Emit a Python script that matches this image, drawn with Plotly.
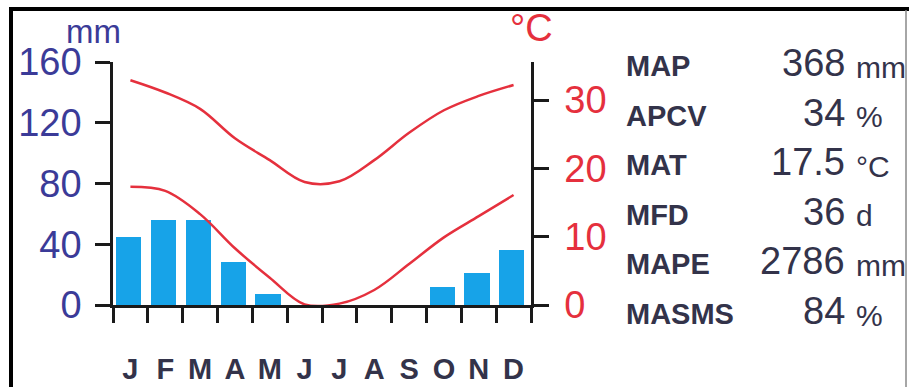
import plotly.graph_objects as go

months = ["J", "F", "M", "A", "M", "J", "J", "A", "S", "O", "N", "D"]
precip_mm = [45, 56, 56, 28, 7, 0, 0, 0, 0, 12, 21, 36]
tmax_c = [32.9, 31.1, 28.7, 24.4, 21.2, 18.0, 18.1, 21.2, 25.2, 28.5, 30.6, 32.2]
tmin_c = [17.3, 16.7, 13.3, 8.3, 4.0, 0.1, 0.2, 2.2, 6.0, 9.9, 13.0, 16.1]

stat_names = ["MAP", "APCV", "MAT", "MFD", "MAPE", "MASMS"]
stat_values = ["368", "34", "17.5", "36", "2786", "84"]
stat_units = ["mm", "%", "°C", "d", "mm", "%"]

left_ticks = [0, 40, 80, 120, 160]
right_ticks = [0, 10, 20, 30]

FONT = "Liberation Sans, Arial, sans-serif"
NAVY = "#3b3b98"
RED = "#e5303d"
BLUE = "#17a3e8"
DARK = "#33334a"

xc = [i + 0.5 for i in range(12)]

fig = go.Figure()
fig.add_trace(go.Bar(x=xc, y=precip_mm, width=0.72, offset=-0.41, marker=dict(color=BLUE, line=dict(width=0)),
                     yaxis="y", showlegend=False))
fig.add_trace(go.Scatter(x=xc, y=tmax_c, mode="lines", line=dict(color=RED, width=2.5, shape="spline", smoothing=1),
                         yaxis="y2", showlegend=False))
fig.add_trace(go.Scatter(x=xc, y=tmin_c, mode="lines", line=dict(color=RED, width=2.5, shape="spline", smoothing=1),
                         yaxis="y2", showlegend=False))

W, H = 909, 387
L, R, T, B = 113, 531, 62, 305

def px(x):
    return (x - L) / (R - L)

def py(y):
    return (B - y) / (B - T)

fig.update_layout(
    width=W, height=H,
    margin=dict(l=L, r=W - R, t=T, b=H - B, autoexpand=False),
    paper_bgcolor="white", plot_bgcolor="white",
    font=dict(family=FONT),
    bargap=0,
    xaxis=dict(range=[0, 12], tickvals=xc, ticktext=months, ticks="", showgrid=False, zeroline=False,
               showline=True, linecolor="#1a1a1a", linewidth=2.5, automargin=False,
               tickfont=dict(size=29, color=DARK, family=FONT, weight="bold"), ticklabelstandoff=36,
               minor=dict(tick0=0, dtick=1, ticks="outside", ticklen=15, tickwidth=2.5, tickcolor="#1a1a1a")),
    yaxis=dict(range=[0, 160], tickvals=left_ticks, ticks="outside", ticklen=15, tickwidth=2.5,
               tickcolor="#1a1a1a", showline=True, linecolor="#1a1a1a", linewidth=2.5, automargin=False,
               showgrid=False, zeroline=False, tickfont=dict(size=38, color=NAVY, family=FONT),
               ticklabelstandoff=6),
    yaxis2=dict(range=[0, 243 / 6.833], tickvals=right_ticks, overlaying="y", side="right", ticks="outside",
                ticklen=15, tickwidth=2.5, tickcolor="#1a1a1a", showline=True, linecolor="#1a1a1a",
                linewidth=2.5, showgrid=False, zeroline=False, automargin=False,
                tickfont=dict(size=38, color=RED, family=FONT), ticklabelstandoff=8),
)

ann = []
ann.append(dict(text="mm", x=px(93), y=py(32), xref="paper", yref="paper", showarrow=False,
                font=dict(size=33, color=NAVY, family=FONT), xanchor="center", yanchor="middle"))
ann.append(dict(text="°C", x=px(531), y=py(28), xref="paper", yref="paper", showarrow=False,
                font=dict(size=38, color=RED, family=FONT), xanchor="center", yanchor="middle"))

base0, step = 77, 49.6
for i, (n, v, u) in enumerate(zip(stat_names, stat_values, stat_units)):
    baseline = base0 + step * i
    ann.append(dict(text=n, x=px(624), y=py(baseline - 11), xref="paper", yref="paper", showarrow=False,
                    font=dict(size=29, color=DARK, family=FONT, weight="bold"), xanchor="left", yanchor="middle"))
    ann.append(dict(text=v, x=px(847), y=py(baseline - 14), xref="paper", yref="paper", showarrow=False,
                    font=dict(size=38, color=DARK, family=FONT), xanchor="right", yanchor="middle"))
    ann.append(dict(text=u, x=px(854), y=py(baseline - 10), xref="paper", yref="paper", showarrow=False,
                    font=dict(size=30, color=DARK, family=FONT), xanchor="left", yanchor="middle"))
fig.update_layout(annotations=ann)

shapes = [
    dict(type="line", xref="paper", yref="paper", x0=px(11), x1=px(911), y0=py(9), y1=py(9),
         line=dict(color="black", width=4)),
    dict(type="line", xref="paper", yref="paper", x0=px(11), x1=px(11), y0=py(7), y1=py(390),
         line=dict(color="black", width=4)),
    dict(type="line", xref="paper", yref="paper", x0=px(906), x1=px(906), y0=py(10), y1=py(390),
         line=dict(color="#888888", width=1.5)),
]
fig.update_layout(shapes=shapes)

fig.write_html("out.html", config={"displayModeBar": False},
               post_script="document.body.style.margin='0';document.body.style.overflow='hidden';")
